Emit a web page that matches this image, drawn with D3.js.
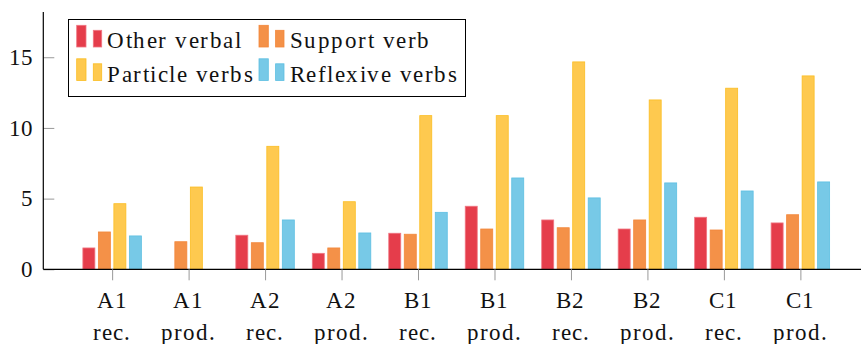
<!DOCTYPE html>
<html>
<head>
<meta charset="utf-8">
<script src="https://cdn.jsdelivr.net/npm/d3@7"></script>
<style>
  @font-face { font-family: "ChartSerif"; src: local("Liberation Serif"), local("LiberationSerif"), local("Liberation Serif Regular"); }
  html, body { margin: 0; padding: 0; background: #fff; }
  svg { display: block; }
  svg text { font-family: "ChartSerif", "Liberation Serif", "DejaVu Serif" !important; }
</style>
</head>
<body>
<svg id="chart" width="861" height="344"></svg>
<script>
// Proficiency level and task for each group of bars
const levels = ["A1", "A1", "A2", "A2", "B1", "B1", "B2", "B2", "C1", "C1"];
const modes  = ["rec.", "prod.", "rec.", "prod.", "rec.", "prod.", "rec.", "prod.", "rec.", "prod."];

// Series values per group
const otherVerbal    = [1.51, 0.00, 2.41, 1.13, 2.55, 4.46, 3.49, 2.85, 3.68, 3.28];
const supportVerb    = [2.64, 1.95, 1.88, 1.51, 2.48, 2.85, 2.94, 3.49, 2.78, 3.86];
const particleVerbs  = [4.64, 5.82, 8.70, 4.78, 10.87, 10.87, 14.67, 11.98, 12.81, 13.68];
const reflexiveVerbs = [2.36, 0.00, 3.49, 2.57, 4.03, 6.46, 5.05, 6.11, 5.54, 6.18];

const seriesNames = ["Other verbal", "Support verb", "Particle verbs", "Reflexive verbs"];
const yTicks = [0, 5, 10, 15];

const seriesValues = [otherVerbal, supportVerb, particleVerbs, reflexiveVerbs];
const fills   = ["#e53d4b", "#f49148", "#fec94f", "#77c9e7"];
const strokes = ["#f07682", "#f2873a", "#fbbd22", "#5dbfe2"];

const FONT = 23;

const svg = d3.select("#chart");

const x = d3.scaleLinear().domain([-0.9, 9.9]).range([43.3, 869.2]);
const y = d3.scaleLinear().domain([0, 18.2]).range([269.3, 12]);
const inner = d3.scaleBand().domain(d3.range(4)).range([-31, 31])
  .paddingInner(0.226).paddingOuter(0.113);

// Bars
const groups = svg.append("g").selectAll("g")
  .data(levels.map((_, i) => i))
  .join("g")
  .attr("transform", i => `translate(${x(i)},0)`);

groups.selectAll("rect")
  .data(i => seriesValues.map((vals, s) => ({ s, v: vals[i] })))
  .join("rect")
  .attr("x", d => inner(d.s))
  .attr("width", inner.bandwidth())
  .attr("y", d => y(d.v))
  .attr("height", d => y(0) - y(d.v))
  .attr("fill", d => fills[d.s])
  .attr("stroke", d => strokes[d.s])
  .attr("stroke-width", 0.8);

// Y axis: tick marks from the axis generator, labels as plain text
const yAxis = svg.append("g").attr("transform", `translate(${x.range()[0]},0)`)
  .call(d3.axisRight(y).tickValues(yTicks).tickSize(11).tickFormat(""));
yAxis.select(".domain").remove();
yAxis.selectAll(".tick line").attr("stroke", "#999").attr("stroke-width", 1);
yAxis.selectAll(".tick text").remove();

svg.append("g").selectAll("text")
  .data(yTicks)
  .join("text")
  .attr("x", x.range()[0] - 10)
  .attr("y", d => y(d))
  .attr("dy", "0.34em")
  .attr("text-anchor", "end")
  .attr("fill", "#111")
  .style("font-size", FONT + "px")
  .style("letter-spacing", "0.3px")
  .text(d => d);

svg.append("line")
  .attr("x1", x.range()[0]).attr("x2", x.range()[0])
  .attr("y1", y.range()[1]).attr("y2", y(0))
  .attr("stroke", "#000").attr("stroke-width", 1.2);

// X axis
const xAxis = svg.append("g").attr("transform", `translate(0,${y(0)})`)
  .call(d3.axisBottom(x).tickValues(d3.range(levels.length)).tickSize(11).tickFormat(""));
xAxis.select(".domain").attr("stroke", "#000").attr("stroke-width", 1.2)
  .attr("d", `M${x.range()[0]},0H${x.range()[1]}`);
xAxis.selectAll(".tick line").attr("stroke", "#999").attr("stroke-width", 1);
xAxis.selectAll(".tick text").remove();

const xl = svg.append("g").selectAll("text")
  .data(d3.range(levels.length))
  .join("text")
  .attr("text-anchor", "middle")
  .attr("fill", "#111")
  .style("font-size", FONT + "px")
  .style("letter-spacing", "1px");
xl.append("tspan").attr("x", i => x(i)).attr("y", y(0) + 39).text(i => levels[i]);
xl.append("tspan").attr("x", i => x(i)).attr("y", y(0) + 71).text(i => modes[i]);

// Legend
const legend = svg.append("g");
legend.append("rect")
  .attr("x", 68.5).attr("y", 19.5).attr("width", 397).attr("height", 77)
  .attr("fill", "#fff").attr("stroke", "#000").attr("stroke-width", 1);

const cols = [76.7, 259];
const rows = [47, 80.5];
seriesNames.forEach((name, s) => {
  const cx = cols[s % 2], base = rows[Math.floor(s / 2)];
  const g = legend.append("g");
  g.append("rect").attr("x", cx).attr("y", base - 21.7).attr("width", 9.3).attr("height", 21.7)
    .attr("fill", fills[s]).attr("stroke", strokes[s]).attr("stroke-width", 0.8);
  g.append("rect").attr("x", cx + 16.6).attr("y", base - 16.7).attr("width", 8.4).attr("height", 16.7)
    .attr("fill", fills[s]).attr("stroke", strokes[s]).attr("stroke-width", 0.8);
  g.append("text").attr("x", cx + 30.5).attr("y", base + 1)
    .attr("fill", "#111")
    .style("font-size", FONT + "px")
    .style("letter-spacing", "1.5px")
    .text(name);
});
</script>
</body>
</html>
